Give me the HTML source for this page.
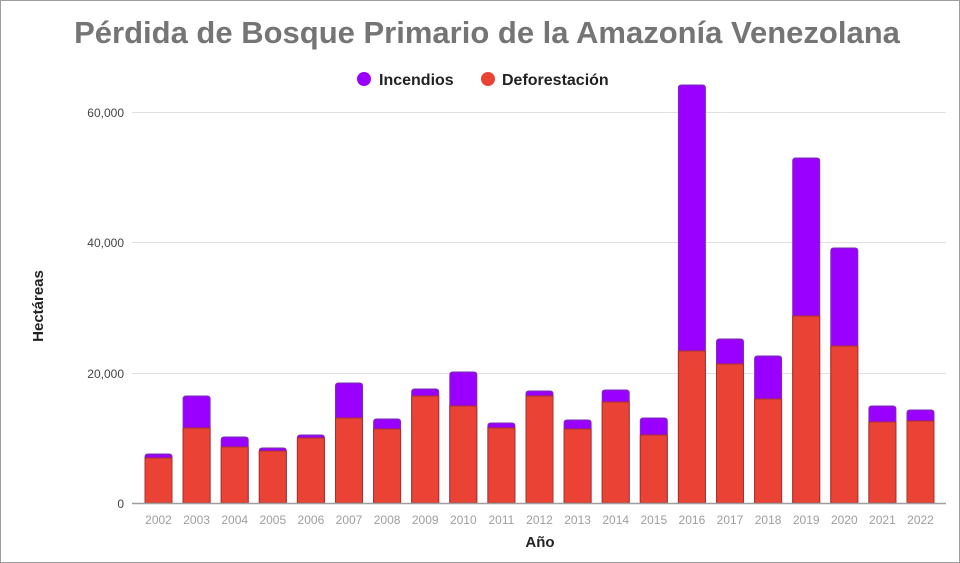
<!DOCTYPE html>
<html><head><meta charset="utf-8"><style>
html,body{margin:0;padding:0;background:#fff;}
svg{display:block;font-family:"Liberation Sans",Arial,sans-serif;}
</style></head><body>
<svg id="c" width="960" height="563" viewBox="0 0 960 563" xmlns="http://www.w3.org/2000/svg">
<rect x="0.5" y="0.5" width="959" height="562" fill="#fff" stroke="#9e9e9e"/>
<text x="487" y="43" text-anchor="middle" font-size="31" font-weight="bold" fill="#757575">Pérdida de Bosque Primario de la Amazonía Venezolana</text>
<circle cx="364" cy="79" r="7" fill="#9900ff"/>
<text x="379" y="85" font-size="16" font-weight="bold" fill="#222">Incendios</text>
<circle cx="488" cy="79" r="7" fill="#ea4335"/>
<text x="502" y="85" font-size="16" font-weight="bold" fill="#222">Deforestación</text>
<g stroke="#e0e0e0" stroke-width="1">
<line x1="132" y1="112.5" x2="946" y2="112.5"/>
<line x1="132" y1="242.5" x2="946" y2="242.5"/>
<line x1="132" y1="373.5" x2="946" y2="373.5"/>
</g>
<g font-size="12" fill="#444" text-anchor="end">
<text x="124" y="117">60,000</text>
<text x="124" y="247">40,000</text>
<text x="124" y="378">20,000</text>
<text x="124" y="508">0</text>
</g>
<text transform="translate(43,306) rotate(-90)" text-anchor="middle" font-size="15" font-weight="bold" fill="#222">Hectáreas</text>
<text x="540" y="547" text-anchor="middle" font-size="15" font-weight="bold" fill="#222">Año</text>
<g id="bars"></g>
<line x1="132" y1="503.5" x2="946" y2="503.5" stroke="#9e9e9e" stroke-width="1.5"/>
<g id="labs" font-size="12" fill="#9e9e9e" text-anchor="middle"></g>
</svg>
<script>
var tot=[454,396,437,448,435,383,419,389,372,423,391,420,390,418,85,339,356,158,248,406,410];
var def=[458,428,447,451,438,418,429,396,406,428,396,429,402,435,351,364,399,316,346,422,421];
var b='',l='';
for(var i=0;i<21;i++){
 var x=145+i*38.1,w=27;
 var t=tot[i],d=def[i];
 b+='<path d="M'+x+' 503 V'+(t+3)+' Q'+x+' '+t+' '+(x+3)+' '+t+' H'+(x+w-3)+' Q'+(x+w)+' '+t+' '+(x+w)+' '+(t+3)+' V503 Z" fill="#9900ff" stroke="#7a2fb0" stroke-width="1"/>';
 b+='<rect x="'+x+'" y="'+d+'" width="'+w+'" height="'+(503-d)+'" fill="#ea4335" stroke="#a8302a" stroke-width="1"/>';
 l+='<text x="'+(x+w/2)+'" y="524">'+(2002+i)+'</text>';
}
document.getElementById('bars').innerHTML=b;
document.getElementById('labs').innerHTML=l;
</script>
</body></html>
